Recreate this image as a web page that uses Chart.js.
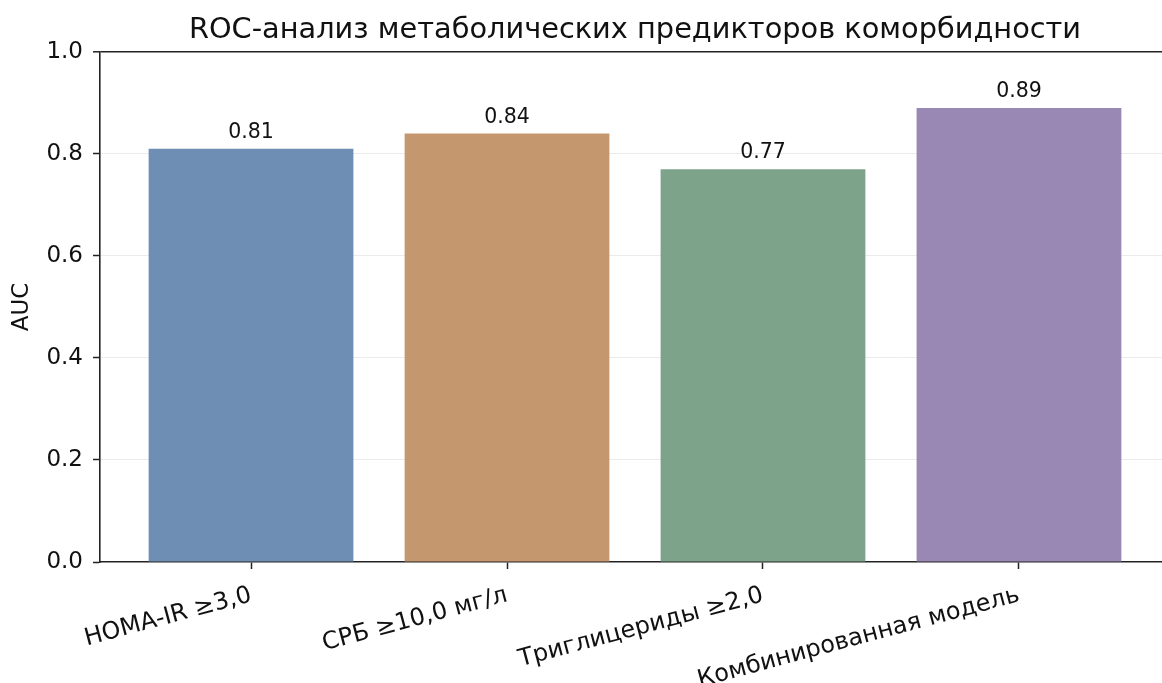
<!DOCTYPE html>
<html>
<head>
<meta charset="utf-8">
<script src="https://cdn.jsdelivr.net/npm/chart.js@4.4.0/dist/chart.umd.min.js"></script>
<style>
  html, body { margin: 0; padding: 0; background: #fff; overflow: hidden; }
  #wrap { width: 1175px; height: 683px; }
</style>
</head>
<body>
<div id="wrap"><canvas id="c" width="1175" height="683"></canvas></div>
<script>
const categories = ['HOMA-IR ≥3,0', 'СРБ ≥10,0 мг/л', 'Триглицериды ≥2,0', 'Комбинированная модель'];
const aucValues = [0.81, 0.84, 0.77, 0.89];
const barColors = ['#6e8fb3', '#c5976f', '#7da38b', '#9a88b4'];
const yTicks = [0.0, 0.2, 0.4, 0.6, 0.8, 1.0];
const titleText = 'ROC-анализ метаболических предикторов коморбидности';
const yAxisLabel = 'AUC';

const FONT = 'DejaVu Sans';
const DARK = '#222';

const valueLabels = {
  id: 'valueLabels',
  afterDatasetsDraw(chart) {
    const ctx = chart.ctx;
    const meta = chart.getDatasetMeta(0);
    ctx.save();
    ctx.font = '20.5px "' + FONT + '"';
    ctx.fillStyle = '#111';
    ctx.textAlign = 'center';
    ctx.textBaseline = 'bottom';
    meta.data.forEach((bar, i) => {
      ctx.fillText(aucValues[i].toFixed(2), bar.x, bar.y - 6);
    });
    ctx.restore();
  }
};

new Chart(document.getElementById('c'), {
  type: 'bar',
  data: {
    datasets: [{
      data: aucValues.map((v, i) => ({ x: i, y: v })),
      backgroundColor: barColors,
      borderWidth: 0,
      barPercentage: 0.8,
      categoryPercentage: 1.0
    }]
  },
  options: {
    responsive: false,
    animation: false,
    devicePixelRatio: 1,
    layout: { padding: { left: 0, right: 5, top: 0, bottom: 0 } },
    plugins: {
      legend: { display: false },
      tooltip: { enabled: false },
      title: {
        display: true,
        text: titleText,
        fullSize: false,
        color: '#111',
        font: { family: FONT, size: 28.8, weight: 'normal' },
        padding: { top: 13.5, bottom: 3.9 }
      }
    },
    scales: {
      x: {
        type: 'linear',
        offset: false,
        min: -0.59,
        max: 3.59,
        afterBuildTicks: (scale) => { scale.ticks = categories.map((c, i) => ({ value: i })); },
        afterFit: (scale) => { scale.height = 121; },
        ticks: {
          autoSkip: false,
          minRotation: 15,
          maxRotation: 15,
          padding: 12,
          color: '#111',
          font: { family: FONT, size: 24 },
          callback: (v) => categories[v]
        },
        grid: { offset: false, drawOnChartArea: false, drawTicks: true, tickLength: 7, tickColor: DARK, tickWidth: 1.5 },
        border: { display: true, color: DARK, width: 1.6 }
      },
      y: {
        min: 0,
        max: 1,
        afterBuildTicks: (scale) => { scale.ticks = yTicks.map(v => ({ value: v })); },
        afterFit: (scale) => { scale.width = 100; },
        ticks: {
          padding: 10,
          color: '#111',
          font: { family: FONT, size: 23 },
          callback: (v) => Number(v).toFixed(1)
        },
        title: {
          display: true,
          text: yAxisLabel,
          color: '#111',
          font: { family: FONT, size: 23 },
          padding: { top: 8, bottom: 0 }
        },
        grid: {
          color: (c) => (c.tick && c.tick.value === 1) ? DARK : (c.tick && c.tick.value === 0 ? 'rgba(0,0,0,0)' : '#ebebeb'),
          lineWidth: (c) => (c.tick && c.tick.value === 1) ? 1.6 : 1,
          tickLength: 7,
          tickColor: DARK,
          tickWidth: 1.5
        },
        border: { display: true, color: DARK, width: 1.6 }
      }
    }
  },
  plugins: [valueLabels]
});
</script>
</body>
</html>
